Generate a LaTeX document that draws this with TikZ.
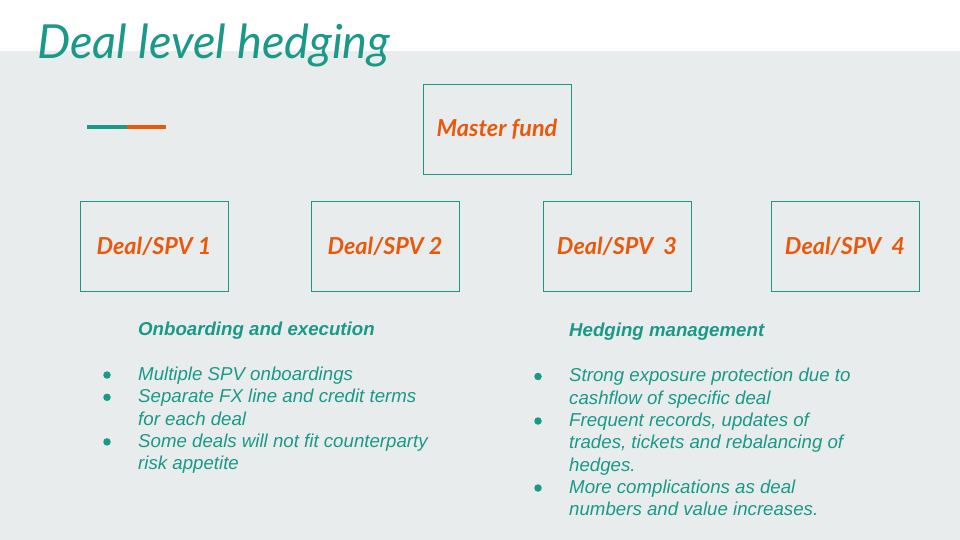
\documentclass[tikz,border=0pt]{standalone}
\usepackage{fontspec}
\newfontfamily\latofont{Lato}
\newfontfamily\arialfont{Liberation Sans}
\definecolor{teal}{RGB}{26,153,136}
\definecolor{orng}{RGB}{232,89,12}
\definecolor{bggray}{RGB}{232,236,236}
\begin{document}
\begin{tikzpicture}[x=1pt,y=-1pt,
  dealbox/.style={draw=teal,line width=1pt,minimum width=148pt,minimum height=90pt,inner sep=0pt},
  boxtext/.style={anchor=base,inner sep=0pt,text=orng,font=\latofont\bfseries\itshape\fontsize{23.4}{27}\selectfont},
  head/.style={anchor=base west,inner sep=0pt,text=teal,font=\arialfont\bfseries\itshape\fontsize{18.67}{22}\selectfont},
  txt/.style={anchor=base west,inner sep=0pt,text=teal,font=\arialfont\itshape\fontsize{18.67}{22}\selectfont},
  bul/.style={circle,fill=teal,inner sep=0pt,minimum size=7.5pt}]
\useasboundingbox (0,0) rectangle (960,540);
\fill[white] (0,0) rectangle (960,540);
\fill[bggray] (0,51) rectangle (960,540);
\node[anchor=base west,inner sep=0pt,text=teal,font=\latofont\itshape\fontsize{47}{55}\selectfont] (title) at (37,58.3) {Deal level hedging};
\fill[teal] (87,125) rectangle (127,129.5);
\fill[orng] (127,125) rectangle (166,129.5);
\node[dealbox] (master) at (497.5,129.5) {};
\node[boxtext] (mastert) at (497,136.7) {Master fund};
\node[dealbox] (d1) at (154.5,246.5) {};
\node[dealbox] (d2) at (385.5,246.5) {};
\node[dealbox] (d3) at (617,246.5) {};
\node[dealbox] (d4) at (845.5,246.5) {};
\node[boxtext] (d1t) at (154,254.7) {Deal/SPV 1};
\node[boxtext] (d2t) at (385,254.7) {Deal/SPV 2};
\node[boxtext] (d3t) at (617,254.7) {Deal/SPV\ \ 3};
\node[boxtext] (d4t) at (845,254.7) {Deal/SPV\ \ 4};
% left column
\node[head] (lh) at (138,335.7) {Onboarding and execution};
\node[txt] (l1) at (138,380.5) {Multiple SPV onboardings};
\node[txt] (l2) at (138,402.8) {Separate FX line and credit terms};
\node[txt] (l3) at (138,425.1) {for each deal};
\node[txt] (l4) at (138,447.4) {Some deals will not fit counterparty};
\node[txt] (l5) at (138,469.7) {risk appetite};
\node[bul] (lb1) at (107,375) {};
\node[bul] (lb2) at (107,397.3) {};
\node[bul] (lb3) at (107,441.9) {};
% right column
\node[head] (rh) at (569,336.7) {Hedging management};
\node[txt] (r1) at (569,381.7) {Strong exposure protection due to};
\node[txt] (r2) at (569,404) {cashflow of specific deal};
\node[txt] (r3) at (569,426.5) {Frequent records, updates of};
\node[txt] (r4) at (569,448.8) {trades, tickets and rebalancing of};
\node[txt] (r5) at (569,471.1) {hedges.};
\node[txt] (r6) at (569,493.4) {More complications as deal};
\node[txt] (r7) at (569,515.7) {numbers and value increases.};
\node[bul] (rb1) at (538,376.5) {};
\node[bul] (rb2) at (538,421) {};
\node[bul] (rb3) at (538,488) {};
\end{tikzpicture}
\end{document}
